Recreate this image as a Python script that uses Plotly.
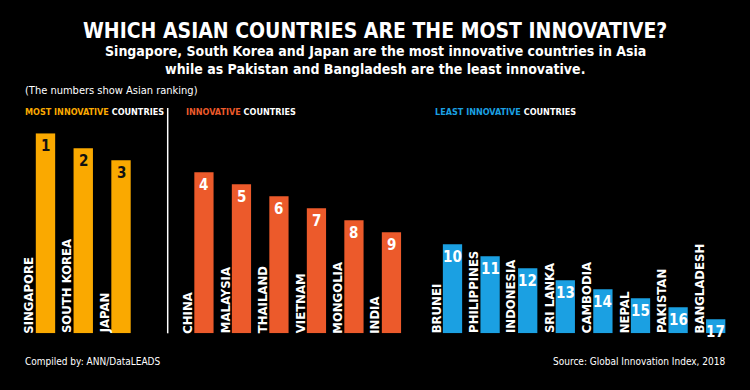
import plotly.graph_objects as go

# ---- data ----
most_countries = ["SINGAPORE", "SOUTH KOREA", "JAPAN"]
most_ranks = [1, 2, 3]
most_heights = [200, 185, 173]

mid_countries = ["CHINA", "MALAYSIA", "THAILAND", "VIETNAM", "MONGOLIA", "INDIA"]
mid_ranks = [4, 5, 6, 7, 8, 9]
mid_heights = [161, 149, 137, 125, 113, 101]

least_countries = ["BRUNEI", "PHILIPPINES", "INDONESIA", "SRI LANKA",
                   "CAMBODIA", "NEPAL", "PAKISTAN", "BANGLADESH"]
least_ranks = [10, 11, 12, 13, 14, 15, 16, 17]
least_heights = [89, 77, 65, 53, 44, 35, 26, 14]

# ---- styles ----
W, H = 750, 390
NARROW = "DejaVu Sans Condensed, Liberation Sans Narrow, Arial Narrow, sans-serif"
ORANGE = "#FAA900"
RED = "#EC5A2B"
BLUE = "#1BA0E2"
BG = "#000000"

def px_x(p):
    return p / W

def px_y(p):
    return (H - p) / H

groups = [
    ("x", "y", most_countries, most_ranks, most_heights, ORANGE, "#111111", (26.6, 139.9)),
    ("x2", "y2", mid_countries, mid_ranks, mid_heights, RED, "#FFFFFF", (185.2, 410.2)),
    ("x3", "y3", least_countries, least_ranks, least_heights, BLUE, "#FFFFFF", (433.7, 734.5)),
]

fig = go.Figure()
annotations = []
layout_axes = {}
y_dom = [px_y(333.3), px_y(133.3)]

for i, (xa, ya, cats, ranks, heights, color, numcolor, dom) in enumerate(groups):
    fig.add_trace(go.Bar(
        x=cats, y=heights, xaxis=xa, yaxis=ya,
        marker=dict(color=color, line=dict(width=0)),
        hoverinfo="x", showlegend=False,
    ))
    suffix = "" if i == 0 else str(i + 1)
    layout_axes["xaxis" + suffix] = dict(
        domain=[px_x(dom[0]), px_x(dom[1])], anchor=ya,
        visible=False, type="category",
        range=[-0.5, len(cats) - 0.5], fixedrange=True,
    )
    layout_axes["yaxis" + suffix] = dict(
        domain=y_dom, anchor=xa, range=[0, 200], visible=False, fixedrange=True,
    )
    for c, r, h in zip(cats, ranks, heights):
        annotations.append(dict(
            x=c, y=h, xref=xa, yref=ya, text=str(r), showarrow=False,
            yanchor="top", xanchor="center", yshift=-2,
            font=dict(family=NARROW, size=15, color=numcolor, weight="bold"),
        ))
        annotations.append(dict(
            x=c, y=0, xref=xa, yref=ya, text=c, showarrow=False,
            textangle=-90, yanchor="bottom", xanchor="center", xshift=-16.5, yshift=-2,
            font=dict(family=NARROW, size=13, color="#FFFFFF", weight="bold"),
        ))

def paper_text(text, x, y, size, xanchor="left", bold=True, color="#FFFFFF"):
    annotations.append(dict(
        x=px_x(x), y=px_y(y), xref="paper", yref="paper", text=text,
        showarrow=False, xanchor=xanchor, yanchor="middle",
        font=dict(family=NARROW, size=size, color=color,
                  weight="bold" if bold else "normal"),
    ))

paper_text("WHICH ASIAN COUNTRIES ARE THE MOST INNOVATIVE?", 375, 31, 21, "center")
paper_text("Singapore, South Korea and Japan are the most innovative countries in Asia",
           375, 51.5, 14, "center")
paper_text("while as Pakistan and Bangladesh are the least innovative.", 375, 68.5, 14, "center")
paper_text("(The numbers show Asian ranking)", 23, 91, 11, "left", bold=False)
paper_text(f"<span style='color:{ORANGE}'>MOST INNOVATIVE</span> COUNTRIES", 23, 111.5, 9)
paper_text(f"<span style='color:{RED}'>INNOVATIVE</span> COUNTRIES", 184, 111.5, 9)
paper_text(f"<span style='color:{BLUE}'>LEAST INNOVATIVE</span> COUNTRIES", 432.5, 111.5, 9)
paper_text("Compiled by: ANN/DataLEADS", 23, 361, 10, "left", bold=False)
paper_text("Source: Global Innovation Index, 2018", 727, 361, 10, "right", bold=False)

fig.update_layout(
    width=W, height=H,
    margin=dict(l=0, r=0, t=0, b=0),
    paper_bgcolor=BG, plot_bgcolor=BG,
    bargap=0.487,
    annotations=annotations,
    shapes=[dict(type="line", xref="paper", yref="paper",
                 x0=px_x(167.7), x1=px_x(167.7), y0=px_y(108), y1=px_y(333.3),
                 line=dict(color="#FFFFFF", width=1.5))],
    **layout_axes,
)

fig.write_html(
    "out.html",
    config={"displayModeBar": False},
    post_script="document.body.style.margin='0px';document.body.style.background='#000';",
)
